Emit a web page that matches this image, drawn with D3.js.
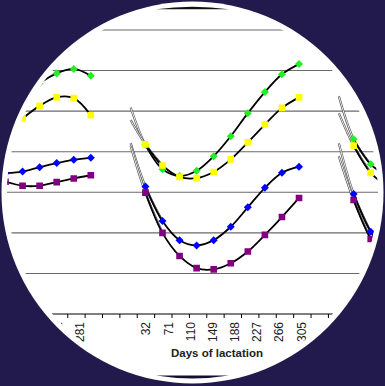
<!DOCTYPE html>
<html>
<head>
<meta charset="utf-8">
<script src="https://cdn.jsdelivr.net/npm/d3@7"></script>
<style>
  html, body { margin: 0; padding: 0; background: #221a4c; overflow: hidden; }
</style>
</head>
<body>
<div id="chart"></div>
<script>
// monthly test days (days in milk) of one lactation
const testDays = [31, 61, 91, 121, 151, 181, 211, 241, 271, 301];
// day where the fitted curves start
const fitStartDay = 5;

// x tick labels, current lactation and the end of the previous one
const labelDaysMid = [32, 71, 110, 149, 188, 227, 266, 305];
const labelDaysPrev = [242, 281];

const seriesColors = ["#22ee22", "#ffff00", "#0000ff", "#800080"];
const seriesShapes = ["diamond", "square", "diamond", "square"];

// previous lactation (only the last tests are visible)
const prevGreen  = [null, null, null, null, null, null, 5.69, 5.93, 6.04, 5.87];
const prevYellow = [null, null, null, null, null, 4.82, 5.13, 5.34, 5.32, 4.90];
const prevBlue   = [null, null, null, null, 3.47, 3.51, 3.62, 3.72, 3.80, 3.85];
const prevPurple = [null, null, null, null, 3.26, 3.16, 3.16, 3.25, 3.34, 3.42];

// current lactation
const midGreen  = [4.17, 3.57, 3.40, 3.53, 3.89, 4.38, 4.95, 5.47, 5.91, 6.16];
const midYellow = [4.18, 3.66, 3.38, 3.35, 3.50, 3.81, 4.23, 4.67, 5.08, 5.34];
const midBlue   = [3.14, 2.29, 1.82, 1.69, 1.82, 2.15, 2.63, 3.11, 3.48, 3.63];
const midPurple = [2.99, 2.00, 1.43, 1.13, 1.10, 1.25, 1.54, 1.95, 2.39, 2.86];
const midFitStart = [5.09, 4.78, 4.21, 4.14];

// next lactation (only the first tests are visible)
const nextGreen  = [4.31, 3.69, 3.40, null, null, null, null, null, null, null];
const nextYellow = [4.15, 3.48, 3.13, null, null, null, null, null, null, null];
const nextBlue   = [2.96, 2.03, 1.48, null, null, null, null, null, null, null];
const nextPurple = [2.81, 1.85, 1.26, null, null, null, null, null, null, null];
const nextFitStart = [5.37, 4.95, 4.21, 3.89];

const lactationLength = 366; // days between the panels on the axis

const panels = [
  { offset: -lactationLength, series: [prevGreen, prevYellow, prevBlue, prevPurple], fitStart: null },
  { offset: 0, series: [midGreen, midYellow, midBlue, midPurple], fitStart: midFitStart },
  { offset: lactationLength, series: [nextGreen, nextYellow, nextBlue, nextPurple], fitStart: nextFitStart }
];

const width = 385, height = 386;
const cx = 192.5, cy = 192.5;

const svg = d3.select("#chart")
  .append("svg")
  .attr("width", width)
  .attr("height", height);

svg.append("rect")
  .attr("width", width)
  .attr("height", height)
  .attr("fill", "#221a4c");

svg.append("circle")
  .attr("cx", cx).attr("cy", cy).attr("r", 191)
  .attr("fill", "#ffffff");

// small dark lens shapes at the top and bottom of the lens
svg.append("path")
  .attr("d", "M156,9.3 Q192.5,4.2 229,9.3 Z")
  .attr("fill", "#111111");
svg.append("path")
  .attr("d", "M156,375.6 Q192.5,381.5 229,375.6 Z")
  .attr("fill", "#120e34");

svg.append("clipPath")
  .attr("id", "lens")
  .append("circle")
  .attr("cx", cx).attr("cy", cy).attr("r", 185.5);

const g = svg.append("g").attr("clip-path", "url(#lens)");

// Scales
const x = d3.scaleLinear()
  .domain([32, 305])
  .range([146, 301.3]);

const y = d3.scaleLinear()
  .domain([0, 7])
  .range([314, 30]);

// gridlines
g.selectAll("line.grid")
  .data(d3.range(1, 8))
  .enter().append("line")
  .attr("class", "grid")
  .attr("x1", 0).attr("x2", width)
  .attr("y1", d => y(d)).attr("y2", d => y(d))
  .attr("stroke", "#6a6a6a")
  .attr("stroke-width", 1.1);

// x axis line and tick marks
g.append("line")
  .attr("x1", 0).attr("x2", width)
  .attr("y1", y(0)).attr("y2", y(0))
  .attr("stroke", "#000")
  .attr("stroke-width", 1);

g.append("g")
  .attr("transform", `translate(0,${y(0)})`)
  .call(d3.axisBottom(x)
    .tickValues(d3.range(-137, 420, 30.55))
    .tickSize(4)
    .tickSizeOuter(0)
    .tickFormat(""))
  .call(ax => ax.select(".domain").remove())
  .selectAll("line")
  .attr("stroke", "#000");

// tick labels
const labels = labelDaysPrev.map(d => ({ day: d - lactationLength, text: d }))
  .concat(labelDaysMid.map(d => ({ day: d, text: d })));

g.selectAll("text.tick-label")
  .data(labels)
  .enter().append("text")
  .attr("class", "tick-label")
  .attr("transform", d => `translate(${x(d.day)},322) rotate(-90)`)
  .attr("dy", "0.36em")
  .attr("text-anchor", "end")
  .style("font-family", "'Liberation Sans', Arial, sans-serif")
  .style("font-size", "12px")
  .attr("fill", "#222")
  .text(d => d.text);

// axis title
g.append("text")
  .attr("x", 217)
  .attr("y", 357)
  .attr("text-anchor", "middle")
  .style("font-family", "'Liberation Sans', Arial, sans-serif")
  .style("font-size", "11.5px")
  .style("font-weight", "bold")
  .attr("fill", "#222")
  .text("Days of lactation");

const curve = d3.line()
  .x(d => x(d.day))
  .y(d => y(d.v))
  .curve(d3.curveCatmullRom.alpha(0.5));

panels.forEach(panel => {
  panel.series.forEach((vals, si) => {
    const pts = testDays.map((d, i) => ({ day: d + panel.offset, v: vals[i] }))
      .filter(p => p.v != null);

    // thin double line of the fitted curve before the first test
    if (panel.fitStart) {
      const thin = [{ day: fitStartDay + panel.offset, v: panel.fitStart[si] }].concat(pts.slice(0, 2));
      g.append("path")
        .attr("d", curve(thin))
        .attr("fill", "none")
        .attr("stroke", "#555")
        .attr("stroke-width", 2.2);
      g.append("path")
        .attr("d", curve(thin))
        .attr("fill", "none")
        .attr("stroke", "#fff")
        .attr("stroke-width", 0.9);
    }

    g.append("path")
      .attr("d", curve(pts))
      .attr("fill", "none")
      .attr("stroke", "#000")
      .attr("stroke-width", 1.8);
  });
});

// markers on top
panels.forEach(panel => {
  panel.series.forEach((vals, si) => {
    const pts = testDays.map((d, i) => ({ day: d + panel.offset, v: vals[i] }))
      .filter(p => p.v != null);
    const isDiamond = seriesShapes[si] === "diamond";
    g.selectAll(null)
      .data(pts)
      .enter().append("path")
      .attr("d", d3.symbol().type(d3.symbolSquare).size(isDiamond ? 32 : 44))
      .attr("transform", d => `translate(${x(d.day)},${y(d.v)})` + (isDiamond ? " rotate(45)" : ""))
      .attr("fill", seriesColors[si]);
  });
});
</script>
</body>
</html>
